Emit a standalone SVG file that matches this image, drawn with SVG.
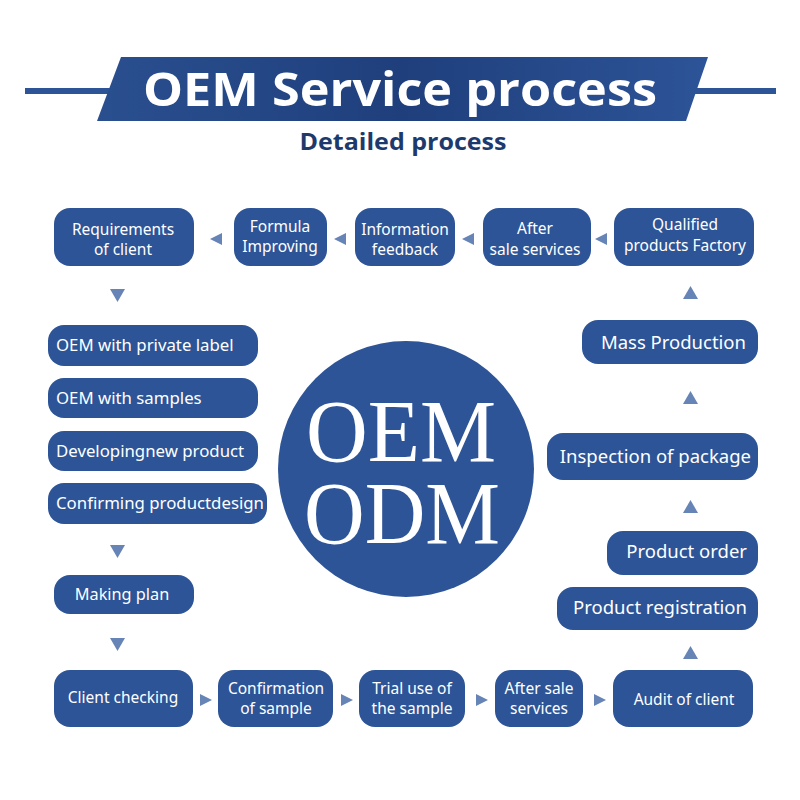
<svg xmlns="http://www.w3.org/2000/svg" width="800" height="800" viewBox="0 0 800 800">
<defs>
<style>
.box{fill:#2c5497;}
.t{fill:#ffffff;font-family:"Noto Sans","Open Sans","Liberation Sans",sans-serif;font-size:15.5px;text-anchor:middle;}
.l{fill:#ffffff;font-family:"Noto Sans","Open Sans","Liberation Sans",sans-serif;font-size:16.8px;text-anchor:start;}
.r{fill:#ffffff;font-family:"Noto Sans","Open Sans","Liberation Sans",sans-serif;font-size:18.5px;text-anchor:end;}
.arr{fill:#6784b6;}
.big{fill:#ffffff;font-family:"Liberation Serif","DejaVu Serif",serif;font-size:88px;text-anchor:middle;}
</style>
<linearGradient id="bg" x1="0" y1="0" x2="1" y2="0">
<stop offset="0" stop-color="#2a4f8f"/>
<stop offset="0.5" stop-color="#1f3f7c"/>
<stop offset="1" stop-color="#2d5498"/>
</linearGradient>
</defs>
<rect width="800" height="800" fill="#ffffff"/>
<g id="header">
<rect x="25" y="88" width="90" height="6" fill="#2c5497"/>
<rect x="690" y="88" width="86" height="6" fill="#2c5497"/>
<polygon points="121,57 708,57 686,121 97,121" fill="url(#bg)"/>
<text x="400" y="106" fill="#ffffff" font-family="'Open Sans','Noto Sans','Liberation Sans',sans-serif" font-weight="bold" font-size="46" text-anchor="middle" textLength="514" lengthAdjust="spacingAndGlyphs">OEM Service process</text>
<text x="403" y="150" fill="#1e3a6c" font-family="'Open Sans','Noto Sans','Liberation Sans',sans-serif" font-weight="bold" font-size="23" text-anchor="middle" textLength="207" lengthAdjust="spacingAndGlyphs">Detailed process</text>
</g>
<g id="center">
<circle cx="406" cy="469" r="128" fill="#2c5497"/>
<text class="big" x="401" y="461" textLength="190" lengthAdjust="spacingAndGlyphs">OEM</text>
<text class="big" x="402" y="543" textLength="196" lengthAdjust="spacingAndGlyphs">ODM</text>
</g>
<g id="n1"><rect class="box" x="54" y="208" width="140" height="58" rx="16"/><text class="t" x="123" y="235">Requirements</text><text class="t" x="123" y="255">of client</text></g>
<g id="n2"><rect class="box" x="234" y="208" width="93" height="58" rx="16"/><text class="t" x="280" y="232">Formula</text><text class="t" x="280" y="252">Improving</text></g>
<g id="n3"><rect class="box" x="355" y="208" width="100" height="58" rx="16"/><text class="t" x="405" y="235">Information</text><text class="t" x="405" y="255">feedback</text></g>
<g id="n4"><rect class="box" x="483" y="208" width="108" height="58" rx="16"/><text class="t" x="535" y="234">After</text><text class="t" x="535" y="255">sale services</text></g>
<g id="n5"><rect class="box" x="614" y="208" width="140" height="58" rx="16"/><text class="t" x="685" y="230">Qualified</text><text class="t" x="685" y="251">products Factory</text></g>
<g id="n6"><rect class="box" x="48" y="325" width="210" height="41" rx="16"/><text class="l" x="56" y="351">OEM with private label</text></g>
<g id="n7"><rect class="box" x="48" y="378" width="210" height="40" rx="16"/><text class="l" x="56" y="404">OEM with samples</text></g>
<g id="n8"><rect class="box" x="48" y="431" width="210" height="40" rx="16"/><text class="l" x="56" y="457">Developingnew product</text></g>
<g id="n9"><rect class="box" x="48" y="483" width="219" height="41" rx="16"/><text class="l" x="56" y="509">Confirming productdesign</text></g>
<g id="n10"><rect class="box" x="54" y="575" width="140" height="39" rx="16"/><text class="t" x="122" y="600" style="font-size:16.3px">Making plan</text></g>
<g id="n11"><rect class="box" x="54" y="670" width="139" height="57" rx="16"/><text class="t" x="123" y="703">Client checking</text></g>
<g id="n12"><rect class="box" x="218" y="670" width="115" height="57" rx="16"/><text class="t" x="276" y="694">Confirmation</text><text class="t" x="276" y="714">of sample</text></g>
<g id="n13"><rect class="box" x="359" y="670" width="106" height="57" rx="16"/><text class="t" x="412" y="694">Trial use of</text><text class="t" x="412" y="714">the sample</text></g>
<g id="n14"><rect class="box" x="495" y="670" width="88" height="57" rx="16"/><text class="t" x="539" y="694">After sale</text><text class="t" x="539" y="714">services</text></g>
<g id="n15"><rect class="box" x="613" y="670" width="140" height="57" rx="16"/><text class="t" x="684" y="705">Audit of client</text></g>
<g id="n16"><rect class="box" x="557" y="587" width="201" height="43" rx="16"/><text class="r" x="747" y="614">Product registration</text></g>
<g id="n17"><rect class="box" x="607" y="531" width="151" height="44" rx="16"/><text class="r" x="747" y="558">Product order</text></g>
<g id="n18"><rect class="box" x="547" y="433" width="211" height="47" rx="16"/><text class="r" x="751" y="463">Inspection of package</text></g>
<g id="n19"><rect class="box" x="582" y="320" width="176" height="44" rx="16"/><text class="r" x="746" y="349">Mass Production</text></g>
<g id="connectors">
<polygon class="arr" points="210,239 222,233 222,245"/>
<polygon class="arr" points="334,239 346,233 346,245"/>
<polygon class="arr" points="462,239 474,233 474,245"/>
<polygon class="arr" points="595,239 607,233 607,245"/>
<polygon class="arr" points="110,289 125,289 117.5,302"/>
<polygon class="arr" points="110,545 125,545 117.5,558"/>
<polygon class="arr" points="110,638 125,638 117.5,651"/>
<polygon class="arr" points="200,694 212,700 200,706"/>
<polygon class="arr" points="341,694 353,700 341,706"/>
<polygon class="arr" points="476,694 488,700 476,706"/>
<polygon class="arr" points="594,694 606,700 594,706"/>
<polygon class="arr" points="683,659 698,659 690.5,646"/>
<polygon class="arr" points="683,513 698,513 690.5,500"/>
<polygon class="arr" points="683,404 698,404 690.5,391"/>
<polygon class="arr" points="683,299 698,299 690.5,286"/>
</g>
</svg>
